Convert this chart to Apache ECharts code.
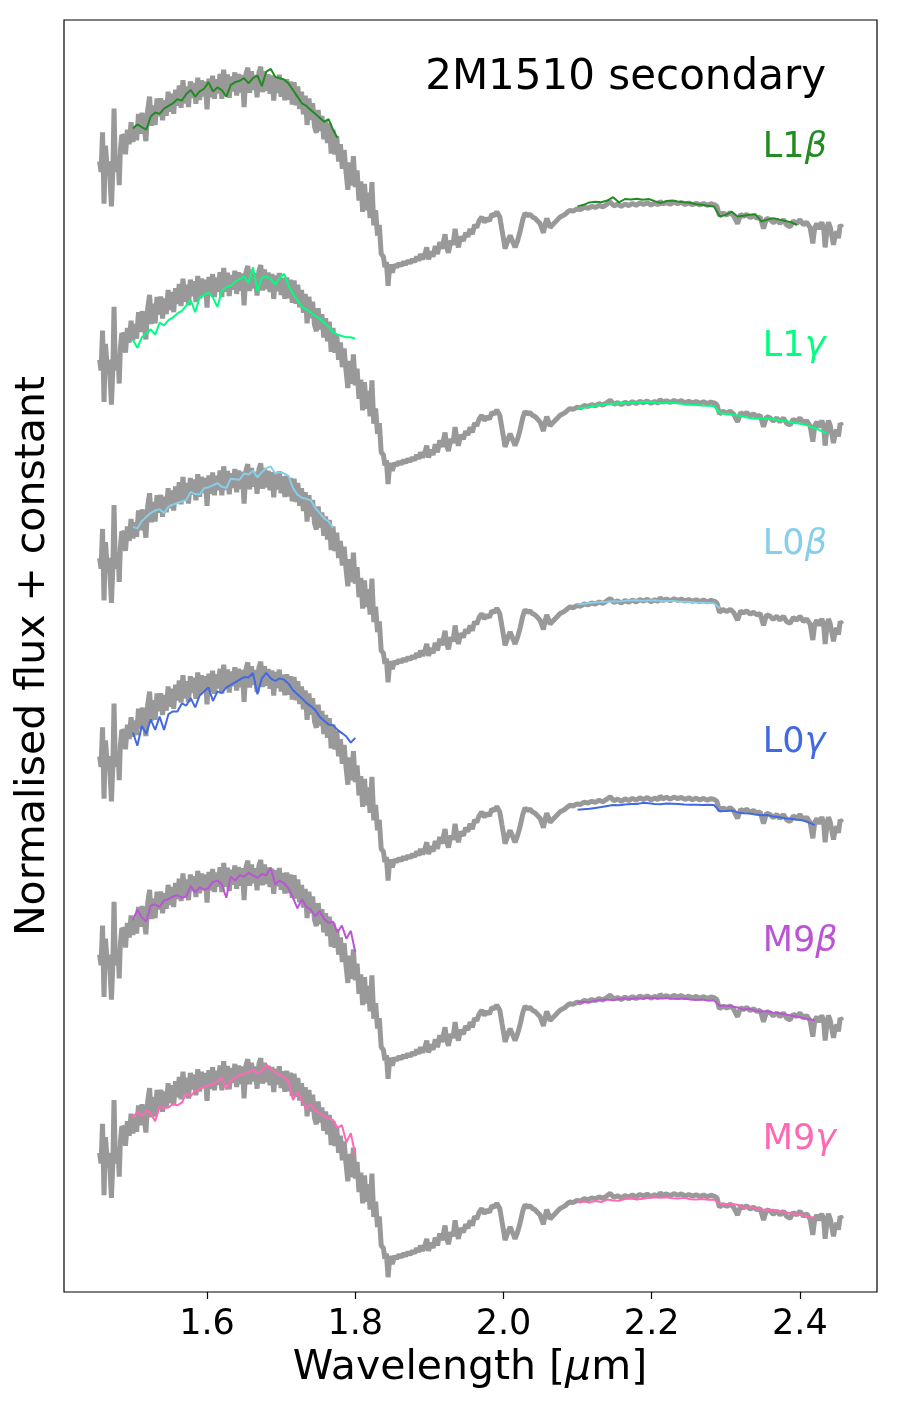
<!DOCTYPE html>
<html>
<head>
<meta charset="utf-8">
<script src="https://cdn.jsdelivr.net/npm/echarts@6/dist/echarts.min.js"></script>
<style>
  html, body { margin: 0; background: #fff; }
  #chart { width: 900px; height: 1411px; }
</style>
</head>
<body>
<div id="chart"></div>
<script>
// observed spectrum (wavelength in micron, normalised flux), same in every panel
const graySpectrum = [
  [1.455,0.66],[1.457,0.62],[1.459,0.77],[1.461,0.50],[1.463,0.72],[1.465,0.64],[1.467,0.66],[1.469,0.60],
  [1.471,0.49],[1.473,0.63],[1.4745,0.86],[1.476,0.66],[1.478,0.62],[1.480,0.68],[1.4815,0.57],[1.483,0.70],
  [1.485,0.76],
  [1.4875,0.752],[1.4900,0.687],[1.4925,0.78],[1.4950,0.725],[1.4975,0.808],[1.5000,0.734],[1.5025,0.795],[1.5050,0.74],
  [1.5075,0.84],[1.5100,0.765],[1.5125,0.844],[1.5150,0.795],[1.5175,0.737],[1.5200,0.856],[1.5225,0.905],[1.5250,0.795],
  [1.5275,0.872],[1.5300,0.798],[1.5325,0.898],[1.5350,0.831],[1.5375,0.899],[1.5400,0.816],[1.5425,0.892],[1.5450,0.833],
  [1.5475,0.924],[1.5500,0.848],[1.5525,0.916],[1.5550,0.84],[1.5575,0.931],[1.5600,0.871],[1.5625,0.947],[1.5650,0.863],
  [1.5675,0.967],[1.5700,0.879],[1.5725,0.944],[1.5750,0.866],[1.5775,0.963],[1.5800,0.90],[1.5825,0.957],[1.5850,0.878],
  [1.5875,0.977],[1.5900,0.892],[1.5925,0.967],[1.5950,0.906],[1.5975,0.963],[1.6000,0.857],[1.6025,0.973],[1.6050,0.903],
  [1.6075,0.984],[1.6100,0.897],[1.6125,0.971],[1.6150,0.917],[1.6175,0.991],[1.6200,0.897],[1.6225,1.007],[1.6250,0.917],
  [1.6275,0.989],[1.6300,0.901],[1.6325,0.981],[1.6350,0.925],[1.6375,0.997],[1.6400,0.909],[1.6425,0.991],[1.6450,0.921],
  [1.6475,0.987],[1.6500,0.866],[1.6525,0.99],[1.6550,1.015],[1.6575,0.92],[1.6600,1.001],[1.6625,0.93],[1.6650,0.987],
  [1.6675,0.903],[1.6700,0.996],[1.6725,1.018],[1.6750,0.922],[1.6775,1.001],[1.6800,0.927],[1.6825,0.99],[1.6850,0.916],
  [1.6875,0.985],[1.6900,0.89],[1.6925,0.979],[1.6950,0.919],[1.6975,0.988],[1.7000,0.905],[1.7025,0.969],[1.7050,0.891],
  [1.7075,0.971],[1.7100,0.893],[1.7125,0.963],[1.7150,0.875],[1.7175,0.96],[1.7200,0.872],[1.7225,0.944],[1.7250,0.858],
  [1.7275,0.924],[1.7300,0.838],[1.7325,0.909],[1.7350,0.798],[1.7375,0.898],[1.7400,0.817],[1.7425,0.88],[1.7450,0.792],
  [1.7475,0.768],[1.7500,0.855],[1.7525,0.775],[1.7550,0.832],[1.7575,0.744],[1.7600,0.817],[1.7625,0.73],[1.7650,0.804],
  [1.7675,0.69],[1.7700,0.78],[1.7725,0.686],[1.7750,0.756],[1.7775,0.66],[1.7800,0.725],[1.7825,0.632],[1.7850,0.703],
  [1.7875,0.62],[1.7900,0.553],[1.7925,0.656],[1.7950,0.569],[1.7975,0.68],[1.8000,0.563],[1.8025,0.626],[1.8050,0.512],
  [1.8075,0.585],[1.8100,0.469],[1.8125,0.575],[1.8150,0.475],[1.8175,0.542],[1.8200,0.446],[1.8225,0.582],[1.8250,0.418],
  [1.8275,0.476],[1.8300,0.38],[1.8325,0.42],[1.8350,0.31],
  [1.838,0.30],[1.840,0.26],[1.842,0.28],[1.8443,0.19],[1.846,0.25],[1.848,0.27],
  [1.850,0.24],[1.853,0.27],[1.856,0.26],[1.859,0.275],[1.862,0.265],[1.865,0.28],[1.868,0.27],[1.871,0.285],
  [1.874,0.275],[1.877,0.29],[1.880,0.28],[1.883,0.30],[1.886,0.285],[1.888,0.31],[1.891,0.29],[1.894,0.31],
  [1.8965,0.335],[1.899,0.29],[1.902,0.32],[1.905,0.30],[1.908,0.34],[1.911,0.31],[1.914,0.355],[1.917,0.33],
  [1.9212,0.385],[1.923,0.34],[1.9257,0.315],[1.929,0.36],[1.932,0.345],[1.9347,0.405],[1.937,0.36],[1.9392,0.335],
  [1.942,0.375],[1.946,0.36],[1.949,0.39],[1.952,0.375],[1.955,0.405],[1.958,0.385],[1.961,0.42],[1.964,0.41],
  [1.967,0.435],[1.9707,0.45],[1.974,0.43],[1.9775,0.445],[1.981,0.435],[1.9842,0.46],[1.988,0.455],[1.991,0.47],
  [1.993,0.475],[1.995,0.45],[1.998,0.40],[2.0005,0.36],[2.0021,0.33],[2.004,0.345],[2.0066,0.365],[2.009,0.38],
  [2.0111,0.375],[2.0135,0.35],[2.0156,0.335],[2.019,0.36],[2.0224,0.395],[2.026,0.44],[2.0291,0.465],[2.032,0.455],
  [2.0359,0.46],[2.039,0.45],[2.0426,0.445],[2.046,0.435],[2.0494,0.425],[2.0539,0.39],[2.056,0.42],[2.0584,0.445],
  [2.0605,0.43],[2.0629,0.41],[2.066,0.42],[2.0696,0.43],[2.073,0.44],[2.0764,0.45],[2.080,0.455],[2.0831,0.46],
  [2.087,0.47],[2.0899,0.475],[2.094,0.472],[2.099,0.48],[2.104,0.478],[2.109,0.487],[2.114,0.483],[2.119,0.49],
  [2.124,0.486],[2.129,0.494],[2.134,0.488],[2.139,0.497],[2.144,0.507],[2.149,0.492],[2.154,0.498],[2.159,0.49],
  [2.164,0.499],[2.169,0.493],[2.174,0.501],[2.179,0.494],[2.184,0.503],[2.189,0.497],[2.194,0.504],[2.199,0.495],
  [2.204,0.502],[2.209,0.496],[2.2114,0.51],[2.215,0.499],[2.220,0.505],[2.225,0.498],[2.230,0.506],[2.235,0.50],
  [2.240,0.505],[2.245,0.497],[2.250,0.503],[2.255,0.496],[2.260,0.502],[2.265,0.495],[2.270,0.501],[2.275,0.494],
  [2.280,0.50],[2.285,0.496],[2.288,0.49],[2.2914,0.455],[2.296,0.465],[2.3014,0.458],[2.306,0.466],[2.3104,0.455],
  [2.3158,0.425],[2.320,0.46],[2.3239,0.452],[2.328,0.46],[2.333,0.448],[2.3374,0.455],[2.342,0.445],[2.3463,0.45],
  [2.3509,0.406],[2.355,0.445],[2.3598,0.44],[2.364,0.428],[2.3689,0.44],[2.373,0.425],[2.3778,0.44],[2.382,0.42],
  [2.3868,0.413],[2.391,0.435],[2.3958,0.425],[2.400,0.44],[2.4048,0.42],[2.409,0.43],[2.4138,0.41],[2.4174,0.35],
  [2.420,0.41],[2.4228,0.425],[2.426,0.405],[2.4295,0.43],[2.432,0.41],[2.434,0.335],[2.4365,0.40],[2.4385,0.43],
  [2.441,0.41],[2.4453,0.345],[2.4475,0.38],[2.4498,0.395],[2.452,0.37],[2.4543,0.42],[2.457,0.41]
];

// template wavelength grids (micron)
const hWave = [1.500,1.506,1.512,1.518,1.524,1.530,1.536,1.542,1.548,1.554,1.560,1.566,1.572,1.578,1.584,1.590,
  1.596,1.602,1.608,1.614,1.620,1.626,1.632,1.638,1.644,1.650,1.656,1.662,1.668,1.674,1.680,1.686,1.692,1.698,
  1.704,1.710,1.716,1.722,1.728,1.734,1.740,1.746,1.752,1.758,1.764,1.770,1.776,1.782,1.788,1.794,1.800];
const kWave = [2.100,2.108,2.116,2.124,2.132,2.140,2.148,2.156,2.164,2.172,2.180,2.188,2.196,2.204,2.212,2.220,
  2.228,2.236,2.244,2.252,2.260,2.268,2.276,2.284,2.292,2.300,2.308,2.316,2.324,2.332,2.340,2.348,2.356,2.364,
  2.372,2.380,2.388,2.396,2.404,2.412,2.420,2.428,2.436];

// template fluxes, H band
const l1bH = [0.785,0.80,0.79,0.78,0.83,0.845,0.84,0.86,0.87,0.88,0.895,0.89,0.915,0.93,0.905,0.925,0.935,0.96,
  0.925,0.94,0.93,0.905,0.95,0.96,0.965,0.975,0.955,0.975,0.985,0.945,1.0,1.01,0.98,0.975,0.97,0.955,0.93,0.905,
  0.88,0.87,0.855,0.84,0.825,0.81,0.82,0.78,0.75];
const l1gH = [0.735,0.705,0.745,0.76,0.775,0.755,0.80,0.79,0.81,0.82,0.835,0.845,0.865,0.885,0.84,0.895,0.905,
  0.915,0.895,0.86,0.92,0.935,0.94,0.955,0.965,0.975,0.95,1.01,0.92,0.97,0.975,0.965,0.945,0.97,0.985,0.94,0.91,
  0.885,0.86,0.85,0.84,0.825,0.815,0.80,0.785,0.765,0.755,0.75,0.745,0.745,0.74];
const l0bH = [0.778,0.772,0.80,0.815,0.83,0.84,0.845,0.83,0.855,0.862,0.868,0.874,0.88,0.91,0.902,0.90,0.924,
  0.928,0.935,0.943,0.93,0.925,0.96,0.958,0.956,0.98,0.976,0.99,0.965,0.985,1.0,1.006,0.98,0.985,0.98,0.97,0.925,
  0.90,0.888,0.884,0.878,0.85,0.83,0.81,0.798,0.775];
const l0gH = [0.75,0.70,0.775,0.745,0.80,0.76,0.81,0.76,0.82,0.83,0.83,0.86,0.852,0.88,0.845,0.89,0.905,0.92,
  0.87,0.905,0.90,0.92,0.93,0.94,0.95,0.96,0.958,0.975,0.895,0.955,0.976,0.955,0.945,0.955,0.95,0.935,0.91,0.895,
  0.88,0.862,0.85,0.835,0.81,0.795,0.78,0.778,0.76,0.748,0.735,0.712,0.73];
const m9bH = [0.79,0.83,0.80,0.785,0.845,0.85,0.84,0.865,0.87,0.88,0.885,0.875,0.88,0.92,0.895,0.915,0.905,0.912,
  0.935,0.94,0.925,0.875,0.955,0.94,0.96,0.955,0.97,0.96,0.95,0.965,0.96,0.99,0.925,0.94,0.93,0.91,0.875,0.835,
  0.87,0.84,0.83,0.805,0.825,0.795,0.78,0.785,0.745,0.77,0.72,0.75,0.67];
const m9gH = [0.795,0.815,0.80,0.82,0.81,0.78,0.835,0.83,0.832,0.845,0.84,0.85,0.885,0.875,0.895,0.90,0.91,0.915,
  0.92,0.93,0.945,0.90,0.935,0.945,0.955,0.96,0.965,0.975,0.96,0.97,0.995,0.975,0.965,0.955,0.945,0.93,0.86,0.89,
  0.86,0.825,0.845,0.82,0.81,0.80,0.79,0.785,0.755,0.765,0.70,0.735,0.655];

// template fluxes, K band
const l1bK = [0.49,0.496,0.505,0.508,0.506,0.512,0.525,0.505,0.518,0.516,0.519,0.515,0.518,0.51,0.503,0.51,0.512,
  0.508,0.506,0.504,0.498,0.496,0.492,0.49,0.452,0.458,0.47,0.452,0.455,0.458,0.46,0.433,0.44,0.445,0.44,0.435,
  0.43,0.42];
const l1gK = [0.476,0.478,0.482,0.486,0.49,0.492,0.494,0.496,0.495,0.497,0.498,0.50,0.501,0.498,0.495,0.496,0.497,
  0.495,0.492,0.49,0.489,0.487,0.486,0.485,0.458,0.456,0.452,0.449,0.445,0.44,0.438,0.438,0.437,0.436,0.43,0.428,
  0.424,0.42,0.416,0.41,0.402,0.392,0.382];
const l0bK = [0.485,0.487,0.49,0.492,0.494,0.495,0.497,0.496,0.498,0.499,0.50,0.498,0.499,0.50,0.498,0.497,0.498,
  0.496,0.495,0.494,0.492,0.491,0.49,0.489,0.47];
const l0gK = [0.458,0.46,0.462,0.465,0.468,0.472,0.476,0.475,0.478,0.48,0.48,0.484,0.483,0.48,0.479,0.482,0.481,
  0.48,0.478,0.477,0.477,0.476,0.477,0.476,0.452,0.453,0.455,0.448,0.445,0.444,0.44,0.437,0.438,0.432,0.43,0.426,
  0.424,0.42,0.418,0.41,0.40];
const m9bK = [0.48,0.482,0.48,0.486,0.488,0.49,0.487,0.492,0.494,0.492,0.495,0.494,0.497,0.496,0.494,0.496,0.493,
  0.492,0.494,0.49,0.488,0.49,0.486,0.487,0.466,0.468,0.464,0.46,0.452,0.455,0.448,0.445,0.446,0.44,0.438,0.434,
  0.43,0.426,0.42,0.416,0.412];
const m9gK = [0.475,0.476,0.472,0.478,0.474,0.484,0.48,0.479,0.486,0.488,0.484,0.487,0.49,0.492,0.49,0.492,0.489,
  0.488,0.49,0.485,0.484,0.486,0.483,0.484,0.468,0.466,0.467,0.464,0.452,0.455,0.45,0.446,0.444,0.445,0.44,0.436,
  0.432,0.428,0.424,0.418,0.416];

const spectralTypes = ['L1', 'L1', 'L0', 'L0', 'M9', 'M9'];
const gravityClass = ['β', 'γ', 'β', 'γ', 'β', 'γ'];
const templateColors = ['#228b22', '#00ff7f', '#87ceeb', '#4169e1', '#ba55d3', '#ff69b4'];
const offsets = [3.75, 3.0, 2.25, 1.5, 0.75, 0];
const hBand = [l1bH, l1gH, l0bH, l0gH, m9bH, m9gH];
const kBand = [l1bK, l1gK, l0bK, l0gK, m9bK, m9gK];
const xTicks = [1.6, 1.8, 2.0, 2.2, 2.4];
const labelX = 2.35;
const labelLift = 0.71;

const font = '"DejaVu Sans", "Liberation Sans", sans-serif';
const series = [];
offsets.forEach((off, i) => {
  series.push({
    type: 'line', showSymbol: false, symbol: 'none', silent: true, z: 2,
    data: graySpectrum.map(([w, f]) => [w, f + off]),
    lineStyle: { color: '#999999', width: 5, join: 'bevel' }
  });
  [[hBand[i], hWave], [kBand[i], kWave]].forEach(([vals, waves]) => {
    series.push({
      type: 'line', showSymbol: false, symbol: 'none', silent: true, z: 3,
      data: vals.map((v, j) => [waves[j], v + off]),
      lineStyle: { color: templateColors[i], width: 2 }
    });
  });
  series.push({
    type: 'scatter', symbolSize: 0, silent: true, z: 4,
    itemStyle: { opacity: 1 },
    data: [[labelX, off + labelLift]],
    label: {
      show: true, position: 'right', distance: 0,
      formatter: '{n|' + spectralTypes[i] + '}{g|' + gravityClass[i] + '}',
      rich: {
        n: { color: templateColors[i], fontSize: 35, fontFamily: font },
        g: { color: templateColors[i], fontSize: 35, fontFamily: font, fontStyle: 'italic' }
      }
    }
  });
});

const chart = echarts.init(document.getElementById('chart'), null, { renderer: 'canvas' });
chart.setOption({
  animation: false,
  backgroundColor: '#fff',
  grid: { left: 64, right: 23, top: 20, bottom: 119, show: true, borderColor: '#000', borderWidth: 1.2, backgroundColor: 'transparent' },
  xAxis: {
    type: 'value', min: 1.407, max: 2.504,
    axisLine: { show: false },
    splitLine: { show: false },
    axisTick: { show: true, customValues: xTicks, length: 7, lineStyle: { color: '#000', width: 1.2 } },
    axisLabel: {
      customValues: xTicks, margin: 15, color: '#000', fontSize: 35, fontFamily: font,
      formatter: (v) => v.toFixed(1)
    }
  },
  yAxis: {
    type: 'value', min: 0.134, max: 4.945,
    axisLine: { show: false }, axisTick: { show: false }, axisLabel: { show: false }, splitLine: { show: false }
  },
  graphic: [
    {
      type: 'text', x: 826, y: 78,
      style: { text: '2M1510 secondary', font: '42px ' + font, fill: '#000', align: 'right', verticalAlign: 'middle' }
    },
    {
      type: 'text', x: 470, y: 1368,
      style: {
        text: '{a|Wavelength [}{b|μ}{a|m]}', align: 'center', verticalAlign: 'middle',
        rich: {
          a: { fontSize: 41, fontFamily: font, fill: '#000' },
          b: { fontSize: 41, fontFamily: font, fill: '#000', fontStyle: 'italic' }
        }
      }
    },
    {
      type: 'text', x: 33, y: 656, rotation: Math.PI / 2,
      style: { text: 'Normalised flux + constant', font: '41px ' + font, fill: '#000', align: 'center', verticalAlign: 'middle' }
    }
  ],
  series: series
});
</script>
</body>
</html>
